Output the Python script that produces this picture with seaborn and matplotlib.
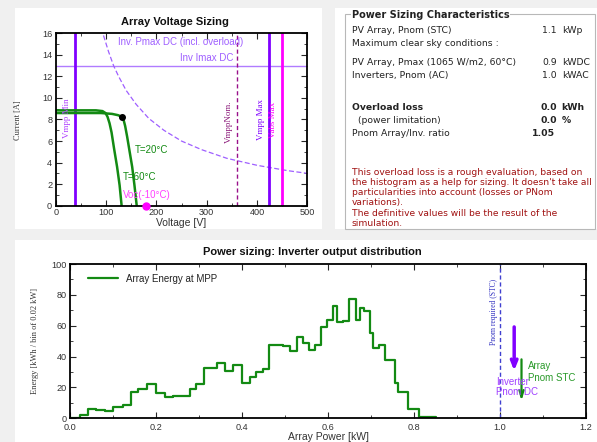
import numpy as np
import pandas as pd
import matplotlib
matplotlib.use("Agg")
import matplotlib.pyplot as plt
import seaborn as sns
from matplotlib.patches import Rectangle
from matplotlib.lines import Line2D
from matplotlib.ticker import MultipleLocator


# Array voltage sizing: I-V curves
v_20c = [0, 90, 112, 124, 131, 135, 138, 142, 147, 152, 156.5, 161]
i_20c = [8.6, 8.6, 8.52, 8.4, 8.26, 7.95, 7.4, 6.4, 5.0, 3.6, 1.9, 0]
v_60c = [0, 80, 93, 99, 103, 107, 111, 116, 122, 127, 131]
i_60c = [8.85, 8.85, 8.78, 8.6, 8.25, 7.65, 6.8, 5.3, 3.6, 1.9, 0]

# inverter Pmax DC limit (incl. overload)
v_pmax_dc = [95, 105, 115, 125, 140, 160, 185, 215, 250, 290, 340, 400, 460, 500]
i_pmax_dc = [15.8, 14.3, 13.0, 12.0, 10.7, 9.4, 8.1, 7.0, 6.0, 5.2, 4.4, 3.75, 3.26, 3.0]

vmpp_min = 38
vmpp_nom = 360
vmpp_max = 423
vabs_max = 450
inv_imax_dc = 13.0
mpp_v, mpp_i = 131, 8.26
voc_m10 = 179

# Inverter output distribution (kWh per bin)
power_edges = [0, 0.023, 0.041, 0.060, 0.081, 0.100, 0.124, 0.141, 0.159, 0.179,
               0.200, 0.220, 0.240, 0.278, 0.294, 0.311, 0.342, 0.360, 0.379, 0.399,
               0.418, 0.432, 0.448, 0.462, 0.496, 0.511, 0.527, 0.541, 0.556, 0.570,
               0.583, 0.598, 0.611, 0.621, 0.636, 0.650, 0.665, 0.674, 0.683, 0.698,
               0.705, 0.718, 0.733, 0.756, 0.763, 0.785, 0.812, 0.851]
energy_bins = [0.4, 2.2, 5.8, 5.2, 4.8, 7.6, 8.6, 16.8, 19, 22,
               16.6, 14, 14.7, 18.8, 22.2, 32.8, 35.6, 30.9, 34.6, 23.1,
               26.6, 30.2, 32, 47.5, 46.9, 43.6, 52.5, 49, 44, 47.3,
               59.4, 63.7, 73, 62.6, 63, 77.1, 63.7, 71.7, 69.7, 55.5,
               45.8, 47.3, 37.8, 22.7, 17.3, 6.2, 0.8]
pnom_required = 1.0
inv_pnom_dc = 1.033
array_pnom_stc = 1.05

# Power sizing characteristics box
info_labels = ["PV Array, Pnom (STC)", "Maximum clear sky conditions :",
               "PV Array, Pmax (1065 W/m2, 60°C)", "Inverters, Pnom (AC)",
               "Overload loss", "  (power limitation)", "Pnom Array/Inv. ratio"]
info_values = ["1.1", "", "0.9", "1.0", "0.0", "0.0", "1.05"]
info_units = ["kWp", "", "kWDC", "kWAC", "kWh", "%", ""]
note_lines = ["This overload loss is a rough evaluation, based on",
              "the histogram as a help for sizing. It doesn't take all",
              "particularities into account (losses or PNom",
              "variations).",
              "The definitive values will be the result of the",
              "simulation."]


sns.set_style("ticks")
plt.rcParams['font.family'] = ['Liberation Sans', 'DejaVu Sans']

W, H = 597, 442
fig = plt.figure(figsize=(W / 100, H / 100), dpi=100, facecolor='#f0f0f0')

def fx(x):
    return x / W

def fy(y):
    return 1 - y / H

def panel(x0, y0, x1, y1):
    fig.add_artist(Rectangle((fx(x0), fy(y1)), (x1 - x0) / W, (y1 - y0) / H,
                             transform=fig.transFigure, facecolor='white',
                             edgecolor='none', zorder=-5))

panel(15, 8, 322, 229)
panel(335, 8, 597, 229)
panel(15, 240, 597, 442)

green = '#138a13'
tick_col = '#333333'

def style_axes(ax, xpad=2):
    for s in ax.spines.values():
        s.set_linewidth(1.3)
        s.set_color('black')
        s.set_visible(True)
    ax.tick_params(which='both', direction='in', top=True, right=True,
                   labelsize=6.6, labelcolor=tick_col, pad=2.5)
    ax.tick_params(axis='x', pad=xpad)
    ax.tick_params(which='major', length=4, width=0.8)
    ax.tick_params(which='minor', length=2, width=0.6)

# ---------------- top: Array Voltage Sizing ----------------
ax1 = fig.add_axes([fx(55.7), fy(205.7), 251.6 / W, 172.4 / H])
ax1.set_facecolor('white')

ax1.axhline(inv_imax_dc, color='#b07cff', lw=1)
sns.lineplot(x=v_pmax_dc, y=i_pmax_dc, ax=ax1, color='#9f5fff', lw=0.9,
             sort=False, estimator=None, linestyle=(0, (4, 2)))
ax1.axvline(vmpp_min, color='#8000ff', lw=2)
ax1.axvline(vmpp_max, color='#8000ff', lw=2)
ax1.axvline(vabs_max, color='#ff00ff', lw=2)
ax1.axvline(vmpp_nom, color='#99108a', lw=1, linestyle=(0, (3, 2)))

sns.lineplot(x=v_20c, y=i_20c, ax=ax1, color=green, lw=1.8, sort=False, estimator=None)
sns.lineplot(x=v_60c, y=i_60c, ax=ax1, color=green, lw=1.8, sort=False, estimator=None)
ax1.plot([mpp_v], [mpp_i], 'o', color='black', ms=4, zorder=5)
ax1.plot([voc_m10], [0], 'o', color='#ff00ff', ms=5, zorder=6, clip_on=False)

ax1.set_xlim(0, 500)
ax1.set_ylim(0, 16)
ax1.xaxis.set_major_locator(MultipleLocator(100))
ax1.xaxis.set_minor_locator(MultipleLocator(50))
ax1.yaxis.set_major_locator(MultipleLocator(2))
ax1.yaxis.set_minor_locator(MultipleLocator(1))
ax1.set_xlabel('')
ax1.set_ylabel('')
style_axes(ax1)

ax1.text(249, 15.2, 'Inv. Pmax DC (incl. overload)', color='#9f5fff', fontsize=7,
         ha='center', va='center')
ax1.text(300, 13.75, 'Inv Imax DC', color='#9f5fff', fontsize=7, ha='center', va='center')
ax1.text(190, 5.15, 'T=20°C', color=green, fontsize=7, ha='center', va='center')
ax1.text(166, 2.7, 'T=60°C', color=green, fontsize=7, ha='center', va='center')
ax1.text(181, 1.0, 'Voc(-10°C)', color='#ff40ff', fontsize=7, ha='center', va='center')
serif = ['Liberation Serif', 'DejaVu Serif']
ax1.text(22, 8.1, 'Vmpp Min', color='#b040ff', fontsize=6.5, family=serif,
         rotation=90, ha='center', va='center')
ax1.text(345, 7.8, 'VmppNom.', color='#8b1a7a', fontsize=6.5, family=serif,
         rotation=90, ha='center', va='center')
ax1.text(407, 8.0, 'Vmpp Max', color='#8000ff', fontsize=6.5, family=serif,
         rotation=90, ha='center', va='center')
ax1.text(431, 8.0, 'Vabs Max', color='#ff00ff', fontsize=6.5, family=serif,
         rotation=90, ha='center', va='center')

fig.text(fx(175), fy(21.7), 'Array Voltage Sizing', fontsize=8, fontweight='bold',
         ha='center', va='center', color='#111111')
fig.text(fx(181.5), fy(223), 'Voltage [V]', fontsize=7.5, ha='center', va='center',
         color=tick_col)
fig.text(fx(18), fy(120), 'Current [A]', fontsize=6, family=serif, rotation=90,
         ha='center', va='center', color=tick_col)

# ---------------- right: info box ----------------
info_font = ['DejaVu Sans']
fig.add_artist(Rectangle((fx(345), fy(229)), 250 / W, 215 / H, transform=fig.transFigure,
                         fill=False, edgecolor='#b8b8b8', lw=0.8, zorder=1))
fig.text(fx(352), fy(15), 'Power Sizing Characteristics', fontsize=7, fontweight='bold',
         family=info_font, ha='left', va='center', color='#222222',
         bbox=dict(facecolor='white', edgecolor='none', pad=0.5), zorder=2)

row_y = [30.7, 44, 62.7, 75.7, 107.7, 120.7, 133.3]
for k, (lab, val, unit) in enumerate(zip(info_labels, info_values, info_units)):
    fig.text(fx(351.7), fy(row_y[k]), lab, fontsize=6.7, family=info_font,
             fontweight='bold' if k == 4 else 'normal', ha='left', va='center',
             color='#222222')
    if val:
        xr = 555 if k == 6 else 556.7
        fig.text(fx(xr), fy(row_y[k]), val, fontsize=6.7, family=info_font,
                 fontweight='bold' if k >= 4 else 'normal', ha='right', va='center',
                 color='#222222')
    if unit:
        fig.text(fx(561.7), fy(row_y[k]), unit, fontsize=6.7, family=info_font,
                 fontweight='bold' if k >= 4 else 'normal', ha='left', va='center',
                 color='#222222')

note_y = [172.3, 182.7, 192.7, 202.7, 213.3, 223.3]
for line, yy in zip(note_lines, note_y):
    fig.text(fx(351.7), fy(yy), line, fontsize=6.6, family=info_font,
             ha='left', va='center', color='#a01010')

# ---------------- bottom: inverter output distribution ----------------
ax2 = fig.add_axes([fx(70), fy(418.3), 516 / W, 154.3 / H])
ax2.set_facecolor('white')

edges = np.array(power_edges)
hist_df = pd.DataFrame({'power': (edges[:-1] + edges[1:]) / 2, 'energy': energy_bins})
sns.histplot(data=hist_df, x='power', weights='energy', bins=list(power_edges),
             element='step', fill=False, color=green, lw=1.6, ax=ax2)

ax2.axvline(pnom_required, color='#4040d0', lw=1, linestyle=(0, (3, 2)))
ax2.annotate('', xy=(inv_pnom_dc, 29), xytext=(inv_pnom_dc, 61),
             arrowprops=dict(arrowstyle='->,head_length=0.5,head_width=0.2',
                             color='#8000ff', lw=2.5))
ax2.annotate('', xy=(array_pnom_stc, 9.5), xytext=(array_pnom_stc, 40),
             arrowprops=dict(arrowstyle='->,head_length=0.5,head_width=0.15',
                             color=green, lw=1.6))
ax2.text(1.064, 33.9, 'Array', color='#2a9a2a', fontsize=7, ha='left', va='center')
ax2.text(1.064, 25.9, 'Pnom STC', color='#2a9a2a', fontsize=7, ha='left', va='center')
ax2.text(0.99, 23.7, 'Inverter', color='#a040ff', fontsize=7, ha='left', va='center')
ax2.text(0.99, 17.2, 'Pnom DC', color='#a040ff', fontsize=7, ha='left', va='center')
ax2.text(0.985, 69, 'Pnom required (STC)', color='#3030c0', fontsize=5.5, family=serif,
         rotation=90, ha='center', va='center')

ax2.set_xlim(0, 1.2)
ax2.set_ylim(0, 100)
ax2.xaxis.set_major_locator(MultipleLocator(0.2))
ax2.xaxis.set_minor_locator(MultipleLocator(0.1))
ax2.yaxis.set_major_locator(MultipleLocator(20))
ax2.yaxis.set_minor_locator(MultipleLocator(10))
ax2.xaxis.set_major_formatter(plt.FuncFormatter(lambda v, p: f"{v:.1f}"))
ax2.set_xlabel('')
ax2.set_ylabel('')
style_axes(ax2, xpad=3.2)

handle = Line2D([], [], color=green, lw=1.6)
ax2.legend([handle], ['Array Energy at MPP'], loc='upper left', frameon=False,
           fontsize=7, handlelength=3.1, borderaxespad=0.6, labelcolor='#222222',
           bbox_to_anchor=(8 / 516, 1))

fig.text(fx(312), fy(251.7), 'Power sizing: Inverter output distribution', fontsize=8,
         fontweight='bold', ha='center', va='center', color='#111111')
fig.text(fx(328), fy(436.5), 'Array Power [kW]', fontsize=7.5, ha='center', va='center',
         color=tick_col)
fig.text(fx(35), fy(341.5), 'Energy [kWh / bin of 0.02 kW]', fontsize=6, family=serif,
         rotation=90, ha='center', va='center', color=tick_col)

fig.savefig('out.png', dpi=100, facecolor=fig.get_facecolor())
